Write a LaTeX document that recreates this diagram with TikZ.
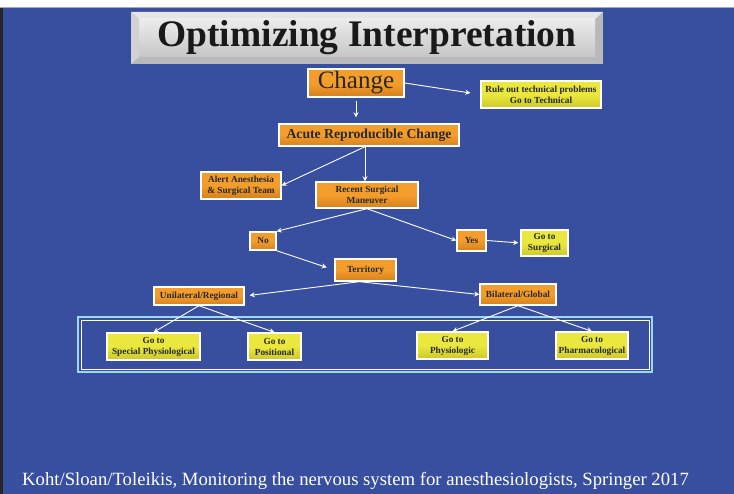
\documentclass[tikz,border=0pt]{standalone}
\usepackage{fontspec}
\setmainfont{Liberation Serif}
\usetikzlibrary{arrows.meta}
\definecolor{fondo}{RGB}{56,79,160}
\definecolor{naranja}{RGB}{243,157,44}
\definecolor{naranjaosc}{RGB}{214,128,28}
\definecolor{amarillo}{RGB}{234,232,62}
\definecolor{amarilloosc}{RGB}{204,200,40}
\definecolor{marco}{RGB}{160,214,240}
\definecolor{texto}{RGB}{40,40,40}
\begin{document}
\begin{tikzpicture}[x=1pt, y=-1pt, >={Stealth[length=5pt,width=5pt]},
    caja/.style={draw=white, line width=1.4pt, text=texto, align=center, inner sep=0pt,
      font=\bfseries\fontsize{9.3}{11}\selectfont},
    naranjo/.style={caja, top color=naranja, bottom color=naranjaosc, middle color=naranja},
    amarilla/.style={caja, top color=amarillo, bottom color=amarilloosc, middle color=amarillo},
    flecha/.style={->, white, line width=0.9pt}]
    % Fondo y margenes
    \useasboundingbox (0,0) rectangle (734,494);
    \fill[white] (0,0) rectangle (734,494);
    \fill[fondo] (0,8) rectangle (734,494);
    \draw[gray!70, line width=1.2pt] (0,7.2) -- (734,7.2);
    \fill[black!85] (0,8) rectangle (2.5,494);

    % Titulo
    \fill[gray!55] (131,12) rectangle (603,64);
    \fill[gray!20] (131,12) -- (603,12) -- (595,19) -- (139,19) -- cycle;
    \fill[gray!35] (131,12) -- (139,19) -- (139,57) -- (131,64) -- cycle;
    \shade[top color=gray!15, bottom color=gray!45] (139,19) rectangle (595,57);
    \node[text=black!90, font=\bfseries\fontsize{37.5}{40}\selectfont] (titulo) at (367,38) {Optimizing Interpretation};

    % Cajas del diagrama
    \node[naranjo, minimum width=96, minimum height=28, font=\fontsize{25}{27}\selectfont] (change) at (356,83) {Change};
    \node[amarilla, minimum width=120, minimum height=27] (rule) at (541,94.5) {Rule out technical problems\\Go to Technical};
    \node[naranjo, minimum width=180, minimum height=22, font=\bfseries\fontsize{13.7}{15}\selectfont] (acute) at (369,135) {Acute Reproducible Change};
    \node[naranjo, minimum width=80, minimum height=27] (alert) at (241,185.5) {Alert Anesthesia\\\& Surgical Team};
    \node[naranjo, minimum width=102, minimum height=26] (recent) at (367,195) {Recent Surgical\\Maneuver};
    \node[naranjo, minimum width=26, minimum height=18] (no) at (263,241) {No};
    \node[naranjo, minimum width=29, minimum height=21] (yes) at (471.5,240.5) {Yes};
    \node[amarilla, minimum width=47, minimum height=26] (surgical) at (544.5,243) {Go to\\Surgical};
    \node[naranjo, minimum width=61, minimum height=22] (territory) at (365.5,270) {Territory};
    \node[naranjo, minimum width=90, minimum height=18] (unilateral) at (199,296) {Unilateral/Regional};
    \node[naranjo, minimum width=76, minimum height=21] (bilateral) at (518,294.5) {Bilateral/Global};

    % Marco doble
    \draw[marco, line width=1.2pt] (78,317) rectangle (652,372);
    \draw[white, line width=0.8pt] (81,320) rectangle (649,369);

    % Destinos finales
    \node[amarilla, minimum width=93, minimum height=27] (special) at (153.5,346.5) {Go to\\Special Physiological};
    \node[amarilla, minimum width=53, minimum height=27] (positional) at (274.5,346.5) {Go to\\Positional};
    \node[amarilla, minimum width=71, minimum height=27] (physiologic) at (452.5,345.5) {Go to\\Physiologic};
    \node[amarilla, minimum width=72, minimum height=27] (pharma) at (592,345.5) {Go to\\Pharmacological};

    % Flechas
    \draw[flecha, shorten >=10pt] (change.east) -- (rule.west);
    \draw[flecha, shorten <=3pt, shorten >=6pt] (change.south) -- (change.south |- acute.north);
    \draw[flecha] ([xshift=-4pt]acute.south) -- ([xshift=-2pt]recent.north);
    \draw[flecha] ([xshift=-4pt]acute.south) -- (alert.east);
    \draw[flecha] (recent.south) -- (no.north east);
    \draw[flecha] (recent.south) -- (yes.west);
    \draw[flecha, shorten >=2pt] (yes.east) -- (surgical.west);
    \draw[flecha, shorten >=8pt] (no.south east) -- (territory.west);
    \draw[flecha, shorten >=5pt] ([xshift=-6pt]territory.south) -- (unilateral.east);
    \draw[flecha] ([xshift=-6pt]territory.south) -- (bilateral.west);
    \draw[flecha] (unilateral.south) -- (special.north);
    \draw[flecha] (unilateral.south) -- (positional.north);
    \draw[flecha] (bilateral.south) -- (physiologic.north);
    \draw[flecha] (bilateral.south) -- (pharma.north);

    % Referencia
    \node[text=white, anchor=base west, inner sep=0pt, font=\fontsize{18.7}{20}\selectfont] (ref) at (22,485) {Koht/Sloan/Toleikis, Monitoring the nervous system for anesthesiologists, Springer 2017};
\end{tikzpicture}
\end{document}
